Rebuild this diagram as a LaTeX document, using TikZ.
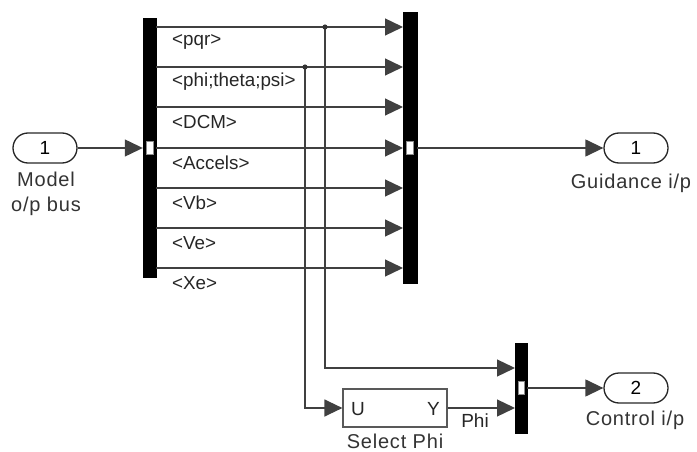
\documentclass[tikz,border=0pt]{standalone}
\usepackage{fontspec}
\setmainfont{Liberation Sans}
\newfontfamily\widefont[LetterSpace=4]{Liberation Sans}
\usetikzlibrary{arrows.meta,shapes.misc}
\begin{document}
\begin{tikzpicture}[x=1pt,y=-1pt,
  wire/.style={draw=black!75, line width=1.3pt},
  arr/.style={wire, -{Triangle[length=18pt,width=17pt]}},
  bar/.style={fill=black, draw=black, inner sep=0pt, minimum width=13pt},
  notch/.style={fill=white, draw=black!45, line width=0.6pt, inner sep=0pt, minimum width=7pt, minimum height=13pt},
  port/.style={draw=black!85, line width=1.3pt, rounded rectangle, minimum width=64pt, minimum height=30pt, inner sep=0pt, font=\fontsize{19}{19}\selectfont},
  sig/.style={font=\fontsize{18.8}{19}\selectfont, anchor=west, inner sep=0pt, text=black!85},
  lbl/.style={font=\widefont\fontsize{20}{25}\selectfont, inner sep=0pt, text=black!80, align=center},
  blk/.style={draw=black!65, line width=1.2pt, minimum width=104pt, minimum height=38pt, inner sep=0pt},
  dot/.style={fill=black!80}
]
\useasboundingbox (0,0) rectangle (697,452);

% ports
\node[port] (in1) at (45,148) {1};
\node[lbl, anchor=north] (in1l) at (46,172) {Model\\o/p bus};
\node[port] (out1) at (636,148) {1};
\node[lbl, anchor=north] (out1l) at (631,174) {Guidance i/p};
\node[port] (out2) at (636,388) {2};
\node[lbl, anchor=north] (out2l) at (635,411) {Control i/p};

% bars
\node[bar, minimum height=259pt] (selL) at (149.5,147.5) {};
\node[bar, minimum height=271pt, minimum width=14pt] (busR) at (410,147.5) {};
\node[bar, minimum height=90pt, minimum width=12pt] (mux) at (521,388) {};

% select block
\node[blk] (sp) at (395,408) {};
\node[font=\fontsize{19}{19}\selectfont, anchor=west, inner sep=0pt, text=black!85] (spU) at (351,409) {U};
\node[font=\fontsize{19}{19}\selectfont, anchor=east, inner sep=0pt, text=black!85] (spY) at (440,409) {Y};
\node[lbl, anchor=north] (spl) at (395,434) {Select Phi};

% input to selector
\draw[arr] (in1.east) -- (in1.east -| selL.west);

% bus signals
\foreach \yy/\tt [count=\i] in {27/{<pqr>},67/{<phi;theta;psi>},107/{<DCM>},148/{<Accels>},188/{<Vb>},228/{<Ve>},268/{<Xe>}}{
  \coordinate (so\i) at (156,\yy);
  \coordinate (bi\i) at (403,\yy);
  \draw[arr] (so\i) -- (bi\i);
  \node[sig] (sl\i) at (172,\yy+15) {\tt};
}

% notches
\node[notch] (n1) at (149.5,148) {};
\node[notch] (n2) at (410,148) {};
\node[notch, minimum width=6pt] (n3) at (521,388) {};

% guidance output
\draw[arr] (busR.east |- out1) -- (out1.west);

% branches
\coordinate (j1) at (325,27);
\coordinate (j2) at (305,67);
\coordinate (m1) at (515,368);
\coordinate (m2) at (515,408);
\draw[arr] (j1) |- (m1);
\draw[arr] (j2) |- (sp.west);
\fill[dot] (j1) circle (2.6pt);
\fill[dot] (j2) circle (2.6pt);

% select out to mux
\draw[arr] (sp.east) -- (m2);
\node[font=\fontsize{19}{19}\selectfont, inner sep=0pt, text=black!85] (phil) at (475,421) {Phi};

% mux output
\draw[arr] (mux.east |- out2) -- (out2.west);
\end{tikzpicture}
\end{document}
